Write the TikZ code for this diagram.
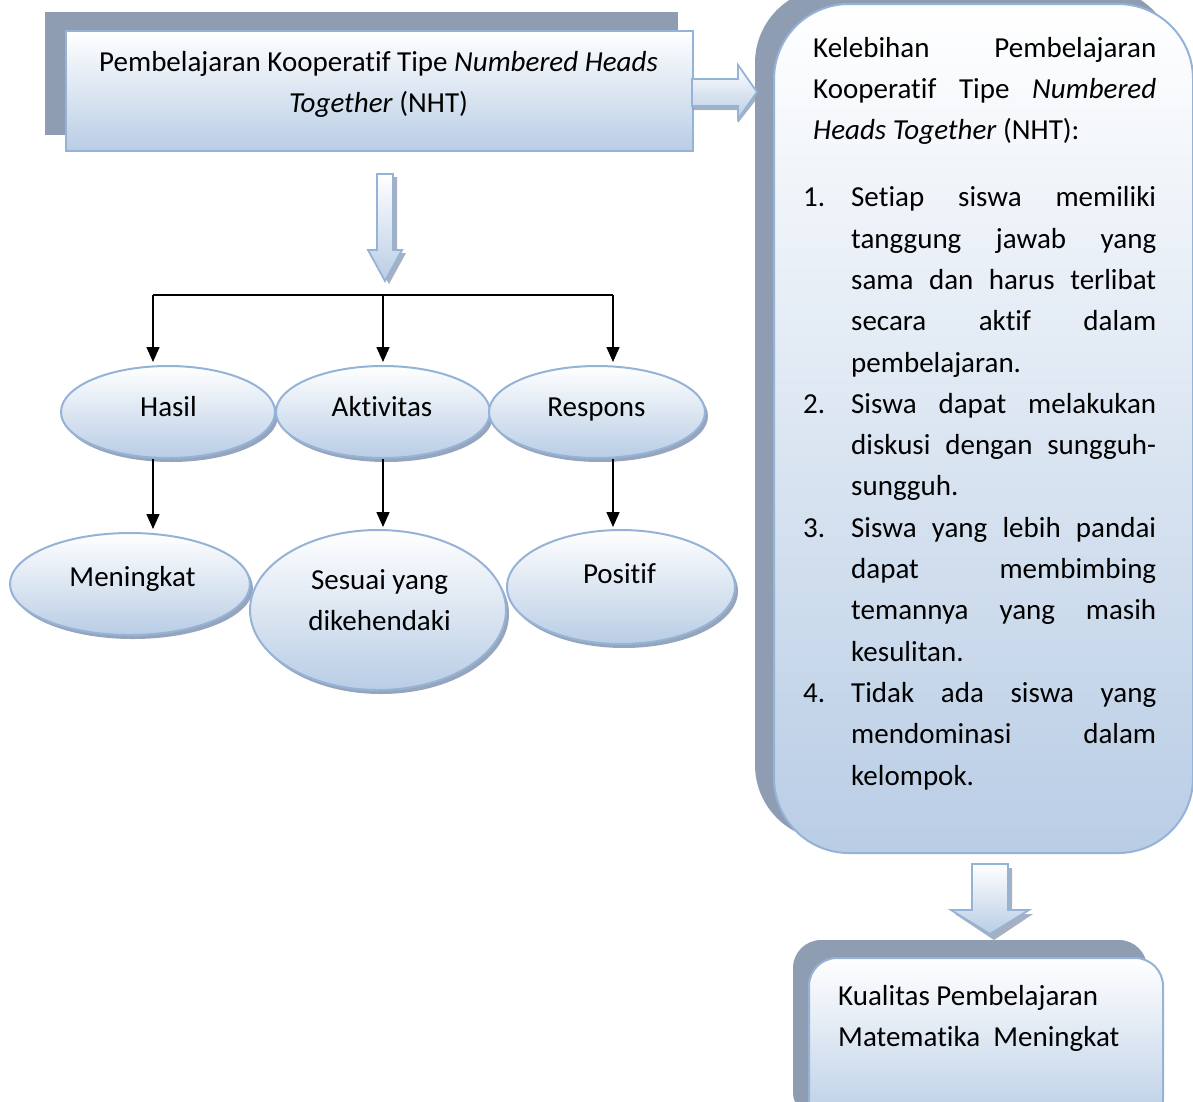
\documentclass[tikz,border=0pt]{standalone}
\usepackage{fontspec}
\setmainfont{Carlito}[Ligatures={NoCommon}]
\usetikzlibrary{arrows.meta,shapes.geometric}
\definecolor{bord}{RGB}{149,179,215}
\definecolor{fillb}{RGB}{185,205,229}
\definecolor{shad}{RGB}{143,157,178}
\definecolor{ellshad}{RGB}{150,165,188}
\begin{document}
\begin{tikzpicture}[x=1pt,y=-1pt,
  every node/.style={font=\fontsize{29}{41.3}\selectfont, inner sep=0pt},
  shadowbox/.style={fill=shad, draw=none},
  mainbox/.style={draw=bord, line width=2pt, top color=white, bottom color=fillb},
  ellbox/.style={ellipse, draw=bord, line width=2pt, top color=white, bottom color=fillb},
  blockarr/.style={draw=bord, line width=1.8pt, top color=white, bottom color=fillb, line join=miter},
  arrshadow/.style={fill=shad, draw=none, opacity=0.8},
  ellshadow/.style={fill=ellshad, draw=none},
  arr/.style={line width=1.5pt, -{Triangle[width=13pt,length=15pt]}},
  tline/.style={line width=1.5pt}
]
\useasboundingbox (0,0) rectangle (1193,1101);
\clip (0,0) rectangle (1193,1101);

% ---------- top-left box ----------
\path[shadowbox] (45,12) rectangle (678,135);
\node[mainbox, minimum width=627, minimum height=120, anchor=north west] (nhtbox) at (65,30) {};
\node[align=center, anchor=north] (nhttext) at (378.5,42) {Pembelajaran Kooperatif Tipe \textit{Numbered Heads}\strut\\ \textit{Together} (NHT)\strut};

% ---------- right big box ----------
\path[shadowbox, rounded corners=75pt] (755,-12) rectangle (1175,840);
\node[mainbox, rounded corners=75pt, minimum width=419, minimum height=849, anchor=north west] (kelbox) at (773,3) {};
\node[align=left, anchor=north west] (keltext) at (803,28.1) {%
\hspace*{10pt}\makebox[343pt][s]{Kelebihan Pembelajaran}\strut\\
\hspace*{10pt}\makebox[343pt][s]{Kooperatif Tipe \textit{Numbered}}\strut\\
\hspace*{10pt}\textit{Heads Together} (NHT):\strut\\[25.7pt]
\makebox[48pt][l]{1.}\makebox[305pt][s]{Setiap siswa memiliki}\strut\\
\hspace*{48pt}\makebox[305pt][s]{tanggung jawab yang}\strut\\
\hspace*{48pt}\makebox[305pt][s]{sama dan harus terlibat}\strut\\
\hspace*{48pt}\makebox[305pt][s]{secara aktif dalam}\strut\\
\hspace*{48pt}pembelajaran.\strut\\
\makebox[48pt][l]{2.}\makebox[305pt][s]{Siswa dapat melakukan}\strut\\
\hspace*{48pt}\makebox[305pt][s]{diskusi dengan sungguh-}\strut\\
\hspace*{48pt}sungguh.\strut\\
\makebox[48pt][l]{3.}\makebox[305pt][s]{Siswa yang lebih pandai}\strut\\
\hspace*{48pt}\makebox[305pt][s]{dapat membimbing}\strut\\
\hspace*{48pt}\makebox[305pt][s]{temannya yang masih}\strut\\
\hspace*{48pt}kesulitan.\strut\\
\makebox[48pt][l]{4.}\makebox[305pt][s]{Tidak ada siswa yang}\strut\\
\hspace*{48pt}\makebox[305pt][s]{mendominasi dalam}\strut\\
\hspace*{48pt}kelompok.\strut};

% ---------- bottom right box ----------
\path[shadowbox, rounded corners=28pt] (793,940) rectangle (1147,1120);
\node[mainbox, rounded corners=28pt, minimum width=354, minimum height=170, anchor=north west] (kualbox) at (808,957) {};
\node[align=left, anchor=north west] (kualtext) at (838,976.1) {Kualitas Pembelajaran\strut\\ Matematika~~Meningkat\strut};

% ---------- block arrows ----------
\path[arrshadow] (692,83) -- (738,83) -- (738,69) -- (759,96) -- (738,123) -- (738,110) -- (692,110) -- cycle;
\path[blockarr] (692,79) -- (738,79) -- (738,65) -- (757,92) -- (738,119) -- (738,106) -- (692,106) -- cycle;

\path[arrshadow] (381,177) -- (397,177) -- (397,253) -- (406,253) -- (389,284) -- (372,253) -- (381,253) -- cycle;
\path[blockarr] (377,174) -- (393,174) -- (393,250) -- (402,250) -- (385,281) -- (368,250) -- (377,250) -- cycle;

\path[arrshadow] (976,868) -- (1012,868) -- (1012,914) -- (1033,914) -- (994,940) -- (955,914) -- (976,914) -- cycle;
\path[blockarr] (972,864) -- (1008,864) -- (1008,910) -- (1029,910) -- (990,934) -- (951,910) -- (972,910) -- cycle;

% ---------- ellipses row 1 ----------
\path[ellshadow] (171,416) ellipse [x radius=107, y radius=46];
\node[ellbox, minimum width=214, minimum height=92] (hasil) at (168,412) {};
\path[ellshadow] (386,416) ellipse [x radius=107, y radius=46];
\node[ellbox, minimum width=214, minimum height=92] (aktiv) at (383,412) {};
\path[ellshadow] (600,416) ellipse [x radius=108, y radius=46];
\node[ellbox, minimum width=216, minimum height=92] (respons) at (597,412) {};
\node[anchor=base] (hasiltext) at (168.5,416) {Hasil};
\node[anchor=base] (aktivtext) at (382,416) {Aktivitas};
\node[anchor=base] (responstext) at (596.5,416) {Respons};

% ---------- ellipses row 2 ----------
\path[ellshadow] (133,588) ellipse [x radius=120, y radius=51];
\node[ellbox, minimum width=240, minimum height=102] (mening) at (130,584) {};
\path[ellshadow] (381,614) ellipse [x radius=128, y radius=80];
\node[ellbox, minimum width=256, minimum height=160] (sesuai) at (378,610) {};
\path[ellshadow] (624,591) ellipse [x radius=114, y radius=57];
\node[ellbox, minimum width=228, minimum height=114] (positif) at (621,587) {};
\node[anchor=base] (meningtext) at (132.5,586) {Meningkat};
\node[align=center, anchor=north] (sesuaitext) at (379.5,560.1) {Sesuai yang\strut\\ dikehendaki\strut};
\node[anchor=base] (positiftext) at (619.5,583) {Positif};

% ---------- tree connectors ----------
\coordinate (b1) at (153,295);
\coordinate (b2) at (383,295);
\coordinate (b3) at (613,295);
\draw[tline] (b1) -- (b3);
\draw[arr, shorten >=3pt] (b1) -- (b1 |- hasil.north);
\draw[arr, shorten >=3pt] (b2) -- (b2 |- aktiv.north);
\draw[arr, shorten >=3pt] (b3) -- (b3 |- respons.north);
\draw[arr, shorten >=3pt] (hasil.south -| b1) -- (mening.north -| b1);
\draw[arr, shorten >=2pt] (aktiv.south -| b2) -- (sesuai.north -| b2);
\draw[arr, shorten >=2pt] (respons.south -| b3) -- (positif.north -| b3);
\end{tikzpicture}
\end{document}
